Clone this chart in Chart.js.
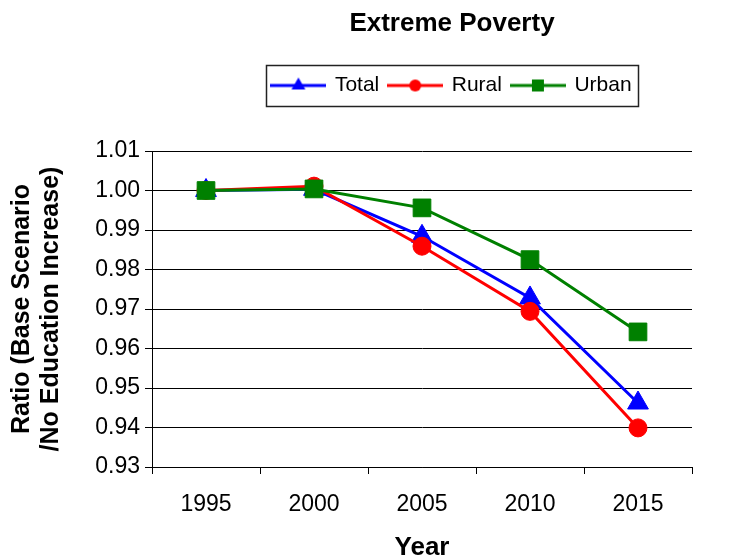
<!DOCTYPE html>
<html>
<head>
<meta charset="utf-8">
<script src="https://cdn.jsdelivr.net/npm/chart.js@4/dist/chart.umd.min.js"></script>
<style>
  html, body { margin: 0; padding: 0; background: #fff; }
</style>
</head>
<body>
<canvas id="chart" width="744" height="560"></canvas>
<script>
// values
const years = ['1995', '2000', '2005', '2010', '2015'];
const total = [1.0000, 1.0003, 0.9884, 0.9728, 0.9462];
const rural = [1.0000, 1.0011, 0.9859, 0.9694, 0.9399];
const urban = [1.0000, 1.0004, 0.9956, 0.9825, 0.9642];
const yTicks = [0.93, 0.94, 0.95, 0.96, 0.97, 0.98, 0.99, 1.00, 1.01];

const FONT = "'Liberation Sans', Arial, sans-serif";

// small line+marker picture for the legend entries
function legendMarker(color, style, radius) {
    const c = document.createElement('canvas');
    c.width = 56;
    c.height = 22;
    const g = c.getContext('2d');
    g.strokeStyle = color;
    g.lineWidth = 3;
    g.beginPath();
    g.moveTo(0, 11);
    g.lineTo(56, 11);
    g.stroke();
    g.fillStyle = color;
    Chart.helpers.drawPoint(g, { pointStyle: style, radius: radius, borderWidth: 0, rotation: 0 }, 28, 11);
    return c;
}

const markers = [
    legendMarker('#0000FF', 'triangle', 8),
    legendMarker('#FF0000', 'circle', 6),
    legendMarker('#008000', 'rect', 8.5)
];

// put the title and legend where the reference has them, and box the legend
const headerPlugin = {
    id: 'header',
    afterLayout(chart) {
        const place = (b, top) => {
            if (!b) return;
            const dx = 452 - (b.left + b.right) / 2;
            b.left += dx;
            b.right += dx;
            const h = b.bottom - b.top;
            b.top = top;
            b.bottom = top + h;
        };
        place(chart.titleBlock, 0);
        place(chart.legend, 65);
    },
    afterDraw(chart) {
        const hb = chart.legend.legendHitBoxes;
        if (!hb || !hb.length) return;
        const l = Math.min(...hb.map(h => h.left)) - 6;
        const r = Math.max(...hb.map(h => h.left + h.width)) + 7;
        const t = Math.min(...hb.map(h => h.top)) - 10;
        const b = Math.max(...hb.map(h => h.top + h.height)) + 10;
        const ctx = chart.ctx;
        ctx.save();
        ctx.strokeStyle = '#222';
        ctx.lineWidth = 1.5;
        ctx.strokeRect(Math.round(l) + 0.5, Math.round(t) + 0.5, Math.round(r - l), Math.round(b - t));
        ctx.restore();
    }
};

new Chart(document.getElementById('chart'), {
    type: 'line',
    data: {
        labels: years,
        datasets: [
            {
                label: 'Total',
                data: total,
                borderColor: '#0000FF',
                backgroundColor: '#0000FF',
                borderWidth: 3,
                pointStyle: 'triangle',
                pointRadius: 12,
                pointBorderWidth: 1,
                order: 3
            },
            {
                label: 'Rural',
                data: rural,
                borderColor: '#FF0000',
                backgroundColor: '#FF0000',
                borderWidth: 3,
                pointStyle: 'circle',
                pointRadius: 9,
                pointBorderWidth: 1,
                order: 2
            },
            {
                label: 'Urban',
                data: urban,
                borderColor: '#008000',
                backgroundColor: '#008000',
                borderWidth: 3,
                pointStyle: 'rect',
                pointRadius: 12.5,
                pointBorderWidth: 1,
                order: 1
            }
        ]
    },
    options: {
        responsive: false,
        animation: false,
        devicePixelRatio: 1,
        layout: { padding: { top: 0, left: 0, right: 52, bottom: 0 } },
        plugins: {
            title: {
                display: true,
                text: 'Extreme Poverty',
                color: '#000',
                font: { family: FONT, size: 26, weight: 'bold' },
                padding: { top: 8, bottom: 20 }
            },
            legend: {
                display: true,
                position: 'top',
                labels: {
                    color: '#000',
                    font: { family: FONT, size: 21 },
                    usePointStyle: true,
                    pointStyleWidth: 52,
                    padding: 10,
                    generateLabels: chart => chart.data.datasets.map((ds, i) => ({
                        text: ds.label,
                        pointStyle: markers[i],
                        fillStyle: ds.borderColor,
                        strokeStyle: ds.borderColor,
                        lineWidth: 0,
                        hidden: false,
                        datasetIndex: i,
                        fontColor: '#000'
                    }))
                }
            },
            tooltip: { enabled: false }
        },
        scales: {
            x: {
                type: 'category',
                offset: true,
                grid: {
                    offset: true,
                    drawOnChartArea: false,
                    drawTicks: true,
                    tickLength: 7,
                    color: '#000'
                },
                border: { display: true, color: '#000', width: 1 },
                ticks: {
                    color: '#000',
                    font: { family: FONT, size: 23 },
                    padding: 17,
                    maxRotation: 0
                },
                title: {
                    display: true,
                    text: 'Year',
                    color: '#000',
                    font: { family: FONT, size: 26, weight: 'bold', lineHeight: 0.95 },
                    padding: { top: 0, bottom: 0 }
                },
                afterFit(s) { s.height = 93; }
            },
            y: {
                min: 0.93,
                max: 1.01,
                grid: {
                    drawTicks: true,
                    tickLength: 7,
                    color: '#000',
                    lineWidth: 1
                },
                border: { display: true, color: '#000', width: 1 },
                afterBuildTicks(s) { s.ticks = yTicks.map(v => ({ value: v })); },
                ticks: {
                    color: '#000',
                    font: { family: FONT, size: 23 },
                    padding: 5,
                    callback: v => Number(v).toFixed(2)
                },
                title: {
                    display: true,
                    text: ['Ratio (Base Scenario', '/No Education Increase)'],
                    color: '#000',
                    font: { family: FONT, size: 25, weight: 'bold', lineHeight: 1.15 },
                    padding: { top: 8, bottom: 0 }
                },
                afterFit(s) {
                    s.width = 152;
                    s.paddingTop = 151;
                }
            }
        }
    },
    plugins: [headerPlugin]
});
</script>
</body>
</html>
